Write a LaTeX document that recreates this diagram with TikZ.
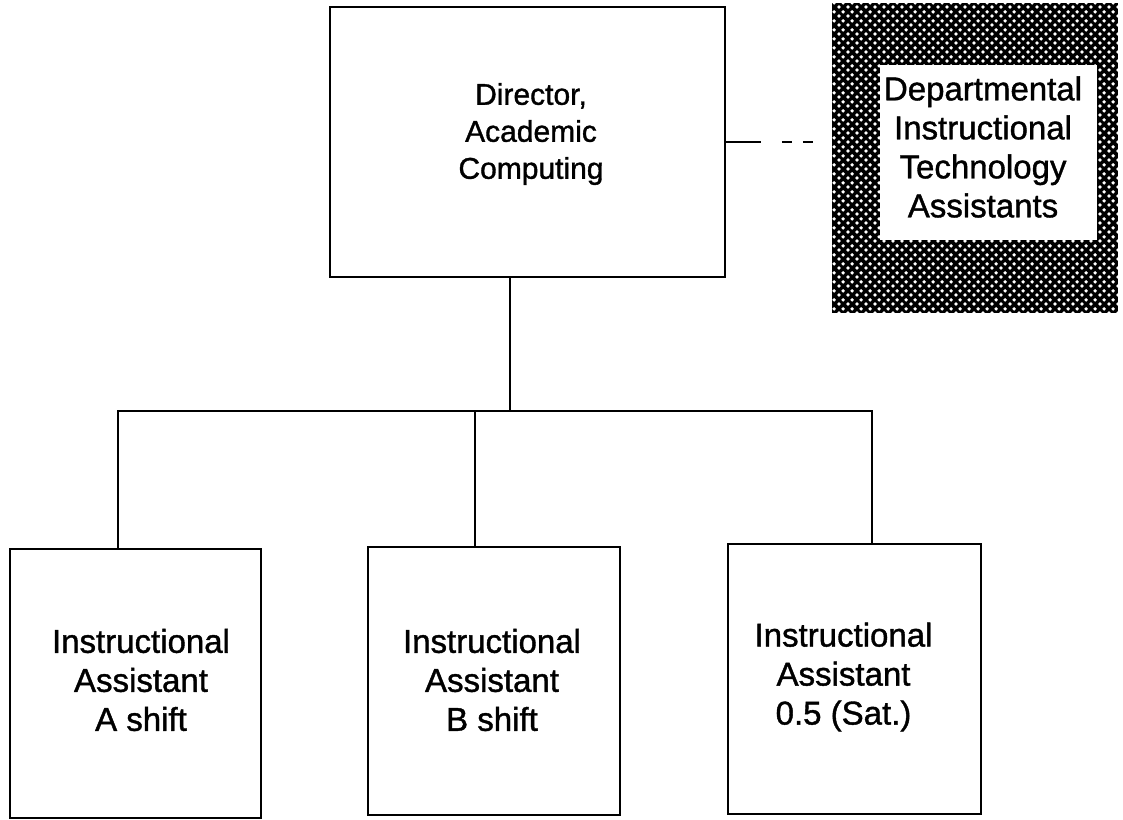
\documentclass[tikz,border=0pt]{standalone}
\usepackage{fontspec}
\setmainfont[FakeBold=1.2,AutoFakeBold=1.2]{Liberation Sans}
\usetikzlibrary{patterns}
\pgfdeclarepatternformonly{wdots}{\pgfqpoint{0pt}{0pt}}{\pgfqpoint{9pt}{9pt}}{\pgfqpoint{9pt}{9pt}}{%
  \pgfpathcircle{\pgfqpoint{2.25pt}{2.25pt}}{2.1pt}%
  \pgfpathcircle{\pgfqpoint{6.75pt}{6.75pt}}{2.1pt}%
  \pgfusepath{fill}}
\begin{document}
\begin{tikzpicture}[x=1pt,y=-1pt,
  box/.style={draw, line width=1.6pt, rectangle, inner sep=0pt},
  lbl/.style={align=center, font=\fontsize{33}{39}\selectfont\addfontfeature{FakeBold=1.2}, inner sep=0pt},
  dlbl/.style={align=center, font=\fontsize{30}{37}\selectfont\addfontfeature{FakeBold=1.2}, inner sep=0pt},
  conn/.style={line width=1.3pt}]
\useasboundingbox (0,0) rectangle (1123,819);

% director
\node[box, minimum width=395pt, minimum height=270pt] (dir) at (527.5,142) {};
\node[dlbl] (dirtxt) at (531,134) {Director,\\Academic\\Computing};

% departmental (hatched)
\node[inner sep=0pt, minimum width=286pt, minimum height=310pt,
      preaction={fill=black}, pattern=wdots, pattern color=white] (hatch) at (975,158) {};
\node[inner sep=0pt, fill=white, minimum width=217pt, minimum height=175pt] (inner) at (988.5,152.5) {};
\node[lbl] (depttxt) at (983,147) {Departmental\\Instructional\\Technology\\Assistants};

% bottom boxes
\node[box, minimum width=251pt, minimum height=269pt] (boxA) at (135.5,683.5) {};
\node[lbl] (txtA) at (141,680) {Instructional\\Assistant\\A shift};
\node[box, minimum width=252pt, minimum height=268pt] (boxB) at (494,681) {};
\node[lbl] (txtB) at (492,680) {Instructional\\Assistant\\B shift};
\node[box, minimum width=253pt, minimum height=270pt] (boxC) at (854.5,679) {};
\node[lbl] (txtC) at (843.5,677) {Instructional\\Assistant\\0.5 (Sat.)};

% connectors
\coordinate (j) at (510,411);
\coordinate (tA) at (118,411);
\coordinate (tB) at (475,411);
\coordinate (tC) at (872,411);
\draw[conn] (dir.south -| j) -- (j);
\draw[conn] (boxA.north -| tA) -- (tA) -- (tC) -- (boxC.north -| tC);
\draw[conn] (boxB.north -| tB) -- (tB);
\draw[conn, dash pattern=on 35pt off 21pt on 10pt off 11pt on 10pt off 60pt]
  (dir.east) -- (dir.east -| hatch.west);
\end{tikzpicture}
\end{document}
